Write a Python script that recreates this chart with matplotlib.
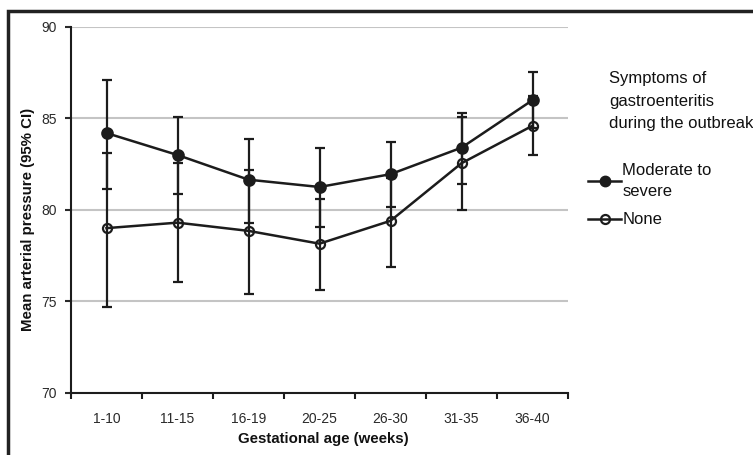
import matplotlib.pyplot as plt
import numpy as np
from matplotlib.lines import Line2D
from matplotlib.patches import Rectangle

plt.rcParams['font.family'] = ['Liberation Sans', 'DejaVu Sans']

#categories
weeks = ['1-10', '11-15', '16-19', '20-25', '26-30', '31-35', '36-40']

#moderate to severe symptoms: mean and 95% CI
mod_mean = [84.2, 83.0, 81.65, 81.25, 81.95, 83.4, 86.0]
mod_lo   = [81.15, 80.85, 79.3, 79.05, 80.15, 81.4, 84.45]
mod_hi   = [87.1, 85.1, 83.9, 83.4, 83.7, 85.3, 87.55]

#no symptoms
none_mean = [79.0, 79.3, 78.85, 78.15, 79.4, 82.55, 84.6]
none_lo   = [74.7, 76.05, 75.4, 75.6, 76.9, 80.0, 83.0]
none_hi   = [83.1, 82.55, 82.2, 80.6, 81.75, 85.1, 86.2]

col = '#1c1c1c'
W, H = 753, 455

fig = plt.figure(figsize=(7.53, 4.55), dpi=100)
ax = fig.add_axes([71/W, 1-392.7/H, 497/W, (392.7-27)/H])

x = np.arange(len(weeks))

for m, lo, hi, face in [(mod_mean, mod_lo, mod_hi, col), (none_mean, none_lo, none_hi, 'none')]:
    m = np.array(m)
    err = [m - np.array(lo), np.array(hi) - m]
    ax.errorbar(x, m, yerr=err, fmt='none', ecolor=col, elinewidth=1.6,
                capsize=3.5, capthick=1.6, zorder=3)
    ax.plot(x, m, color=col, lw=1.8, marker='o', markersize=7.5 if face != 'none' else 6.5,
            markerfacecolor=face, markeredgecolor=col, markeredgewidth=1.6, zorder=4)

ax.set_xlim(-0.5, len(weeks) - 0.5)
ax.set_ylim(70, 90)
ax.set_yticks([70, 75, 80, 85, 90])
ax.set_xticks(x)
ax.set_xticklabels(weeks)
ax.set_xticks(np.arange(-0.5, len(weeks)), minor=True)
ax.tick_params(axis='x', which='major', length=0, labelsize=10, pad=14, colors='#2a2a2a')
ax.tick_params(axis='x', which='minor', length=4, width=1.5, direction='out', color=col)
ax.tick_params(axis='y', length=4, width=1.5, labelsize=10, pad=6, colors='#2a2a2a')
ax.yaxis.grid(True, color='#c4c4c4', lw=1.5)
ax.set_axisbelow(True)
for s in ['top', 'right']:
    ax.spines[s].set_visible(False)
for s in ['left', 'bottom']:
    ax.spines[s].set_linewidth(1.5)
    ax.spines[s].set_color(col)

fig.text(323.5/W, 1-439/H, 'Gestational age (weeks)', fontsize=10.8, fontweight='bold',
         ha='center', va='center', color='#111111')
fig.text(28/W, 1-219/H, 'Mean arterial pressure (95% CI)', fontsize=10.8, fontweight='bold',
         ha='center', va='center', rotation=90, color='#111111')

#legend
fig.text(609/W, 1-71/H, 'Symptoms of\ngastroenteritis\nduring the outbreak',
         fontsize=12, va='top', ha='left', linespacing=1.64, color='#111111')
handles = [Line2D([], [], color=col, lw=1.8, marker='o', markersize=7.5,
                  markerfacecolor=col, markeredgecolor=col),
           Line2D([], [], color=col, lw=1.8, marker='o', markersize=6.5,
                  markerfacecolor='none', markeredgecolor=col, markeredgewidth=1.6)]
leg = fig.legend(handles, ['Moderate to\nsevere', 'None'], loc='upper left',
                 bbox_to_anchor=(588/W, 1-163/H), frameon=False, fontsize=12,
                 handlelength=2.0, handletextpad=0.05, labelspacing=0.8, borderpad=0,
                 borderaxespad=0)
for t in leg.get_texts():
    t.set_linespacing(1.5)
    t.set_color('#111111')

#outer frame
fig.patches.append(Rectangle((8/W, -0.2), 1.2, 1-11/H+0.2, transform=fig.transFigure,
                             fill=False, lw=2.5, edgecolor='#222222'))

fig.savefig('out.png', dpi=100)
